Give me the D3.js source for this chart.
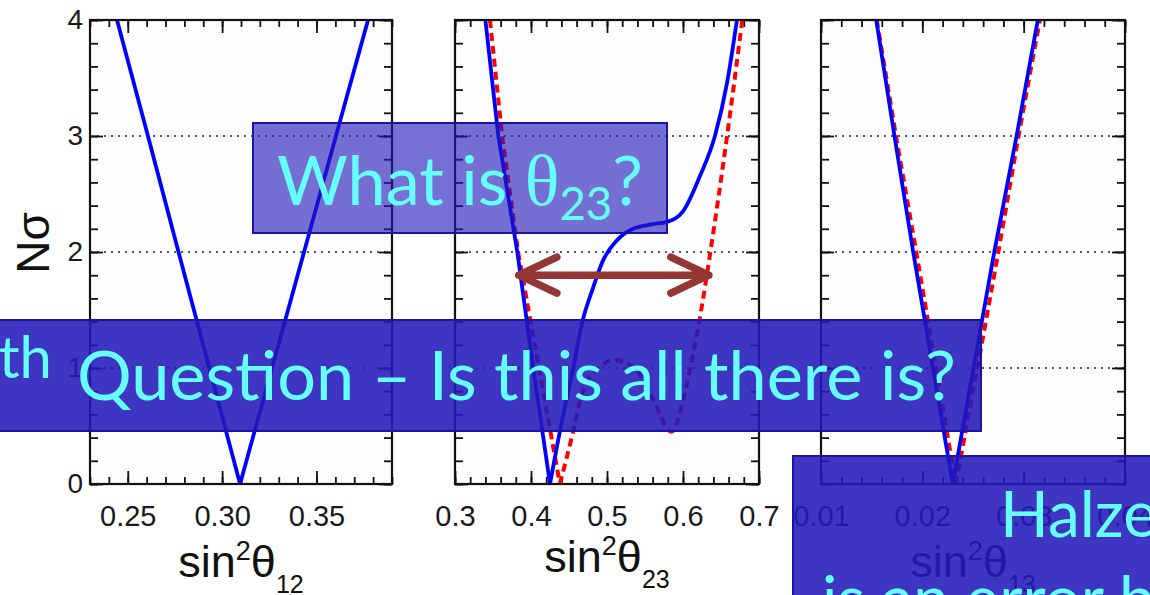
<!DOCTYPE html>
<html><head><meta charset="utf-8">
<script src="https://cdn.jsdelivr.net/npm/d3@7"></script>
<style>
html,body{margin:0;padding:0;background:#fff;overflow:hidden;}
svg{display:block;}
</style></head>
<body><svg id="c" width="1150" height="595"></svg>
<script>
// ---- Nσ axis (shared by the three panels) ----
const nsigmaTicks = [0, 1, 2, 3, 4];
const nsigmaLabels = ["0", "1", "2", "3", "4"];
const gridLevels = [1, 2, 3];

// ---- sin²θ12 panel ----
const s12Ticks = [0.25, 0.30, 0.35];
const s12Labels = ["0.25", "0.30", "0.35"];
const s12BlueLeft  = [[0.2443, 4], [0.2607, 3], [0.2769, 2], [0.3095, 0]];
const s12BlueRight = [[0.3095, 0], [0.3434, 2], [0.3603, 3], [0.3773, 4]];

// ---- sin²θ23 panel ----
const s23Ticks = [0.3, 0.4, 0.5, 0.6, 0.7];
const s23Labels = ["0.3", "0.4", "0.5", "0.6", "0.7"];
const s23BlueLeft  = [[0.340, 4], [0.357, 3], [0.382, 2], [0.403, 1], [0.425, 0]];
const s23BlueRight = [[0.425, 0], [0.440, 0.52], [0.455, 0.98], [0.468, 1.41], [0.480, 1.66],
                      [0.495, 1.93], [0.513, 2.10], [0.534, 2.20], [0.560, 2.24], [0.579, 2.26],
                      [0.600, 2.35], [0.622, 2.65], [0.642, 3.0], [0.658, 3.46], [0.671, 4.0]];
const s23RedLeft   = [[0.346, 4], [0.362, 3], [0.383, 2], [0.4105, 1], [0.438, 0]];
const s23RedRight  = [[0.438, 0], [0.455, 0.44], [0.467, 0.78], [0.491, 1.01], [0.508, 1.07],
                      [0.5346, 1.01], [0.561, 0.72], [0.585, 0.45], [0.600, 0.72], [0.6136, 1.13],
                      [0.624, 1.5], [0.636, 2.0], [0.658, 3.0], [0.678, 4.0]];
const s23Range = { from: 0.384, to: 0.634, level: 1.8 };

// ---- sin²θ13 panel ----
const s13Ticks = [0.01, 0.02, 0.03, 0.04];
const s13Labels = ["0.01", "0.02", "0.03", "0.04"];
const s13BlueLeft  = [[0.01545, 4], [0.01725, 3], [0.0191, 2], [0.0230, 0]];
const s13BlueRight = [[0.0230, 0], [0.0271, 2], [0.0293, 3], [0.0314, 4]];
const s13RedLeft   = [[0.0155, 4], [0.0174, 3], [0.0194, 2], [0.0233, 0]];
const s13RedRight  = [[0.0233, 0], [0.0275, 2], [0.0295, 3], [0.0316, 4]];

const svg = d3.select("#c");
const plotFont = "'Liberation Sans', Arial, Helvetica, sans-serif";
const slideFont = "Lato, 'Open Sans', sans-serif";
const BLUE = "#0000ff", RED = "#ff0000";

const y = d3.scaleLinear().domain([0, 4]).range([484, 20]);
const yMinor = d3.range(0, 4.0001, 0.2);

const panels = [
  { id: "p12", domain: [0.23, 0.39], range: [90, 392], ticks: s12Ticks, labels: s12Labels,
    minorStep: 0.01, sub: "12", titleY: 577, yLabels: true,
    series: [{ left: s12BlueLeft, right: s12BlueRight, color: BLUE, dash: null }] },
  { id: "p23", domain: [0.3, 0.7], range: [455, 759], ticks: s23Ticks, labels: s23Labels,
    minorStep: 0.02, sub: "23", titleY: 572, yLabels: false,
    series: [{ left: s23RedLeft, right: s23RedRight, color: RED, dash: "8,5" },
             { left: s23BlueLeft, right: s23BlueRight, color: BLUE, dash: null }] },
  { id: "p13", domain: [0.01, 0.04], range: [821, 1125], ticks: s13Ticks, labels: s13Labels,
    minorStep: 0.002, sub: "13", titleY: 577, yLabels: false,
    series: [{ left: s13RedLeft, right: s13RedRight, color: RED, dash: "8,5" },
             { left: s13BlueLeft, right: s13BlueRight, color: BLUE, dash: null }] }
];

const scales = {};

panels.forEach(p => {
  const x = d3.scaleLinear().domain(p.domain).range(p.range);
  scales[p.id] = x;
  const [x0, x1] = p.range;
  const yb = y(0), yt = y(4);
  const g = svg.append("g");

  g.append("rect").attr("x", x0).attr("y", yt).attr("width", x1 - x0).attr("height", yb - yt)
    .attr("fill", "#fdfdfd");

  // dotted reference levels
  g.selectAll("line.grid").data(gridLevels).join("line")
    .attr("class", "grid")
    .attr("x1", x0).attr("x2", x1)
    .attr("y1", d => y(d)).attr("y2", d => y(d))
    .attr("stroke", "#222").attr("stroke-width", 1.6).attr("stroke-dasharray", "2,5");

  const minor = d3.range(p.domain[0], p.domain[1] + p.minorStep / 2, p.minorStep);

  const styleAxis = sel => {
    sel.select(".domain").remove();
    sel.selectAll(".tick line").attr("stroke", "#111").attr("stroke-width", 1.8);
  };

  // x ticks, inward on bottom and top
  g.append("g").attr("transform", `translate(0,${yb})`)
    .call(d3.axisBottom(x).tickValues(minor).tickSize(-7).tickFormat(""))
    .call(styleAxis);
  g.append("g").attr("transform", `translate(0,${yt})`)
    .call(d3.axisTop(x).tickValues(minor).tickSize(-7).tickFormat(""))
    .call(styleAxis);
  g.append("g").attr("transform", `translate(0,${yt})`)
    .call(d3.axisTop(x).tickValues(p.ticks).tickSize(-13).tickFormat(""))
    .call(styleAxis);
  const xb = g.append("g").attr("transform", `translate(0,${yb})`)
    .call(d3.axisBottom(x).tickValues(p.ticks).tickSize(-13).tickPadding(21)
      .tickFormat((d, i) => p.labels[i]))
    .call(styleAxis);
  xb.selectAll("text").attr("font-family", plotFont).attr("font-size", 29).attr("fill", "#1a1a1a");

  // y ticks, inward on left and right
  g.append("g").attr("transform", `translate(${x0},0)`)
    .call(d3.axisLeft(y).tickValues(yMinor).tickSize(-8).tickFormat(""))
    .call(styleAxis);
  g.append("g").attr("transform", `translate(${x1},0)`)
    .call(d3.axisRight(y).tickValues(yMinor).tickSize(-8).tickFormat(""))
    .call(styleAxis);
  g.append("g").attr("transform", `translate(${x1},0)`)
    .call(d3.axisRight(y).tickValues(nsigmaTicks).tickSize(-13).tickFormat(""))
    .call(styleAxis);
  const yl = g.append("g").attr("transform", `translate(${x0},0)`)
    .call(d3.axisLeft(y).tickValues(nsigmaTicks).tickSize(-13).tickPadding(7)
      .tickFormat((d, i) => p.yLabels ? nsigmaLabels[i] : ""))
    .call(styleAxis);
  yl.selectAll("text").attr("font-family", plotFont).attr("font-size", 28).attr("fill", "#1a1a1a");

  // curves
  const clipId = "clip-" + p.id;
  svg.append("clipPath").attr("id", clipId).append("rect")
    .attr("x", x0).attr("y", yt).attr("width", x1 - x0).attr("height", yb - yt);
  const cg = g.append("g").attr("clip-path", `url(#${clipId})`);
  const lineL = d3.line().x(d => x(d[0])).y(d => y(d[1])).curve(d3.curveLinear);
  const lineR = d3.line().x(d => x(d[0])).y(d => y(d[1])).curve(d3.curveMonotoneX);
  p.series.forEach(s => {
    [[s.left, lineL], [s.right, lineR]].forEach(([data, gen]) => {
      cg.append("path").datum(data).attr("d", gen)
        .attr("fill", "none").attr("stroke", s.color)
        .attr("stroke-width", s.dash ? 4 : 3.8)
        .attr("stroke-dasharray", s.dash)
        .attr("stroke-linejoin", "round");
    });
  });

  // frame
  g.append("rect").attr("x", x0).attr("y", yt).attr("width", x1 - x0).attr("height", yb - yt)
    .attr("fill", "none").attr("stroke", "#111").attr("stroke-width", 2.2);

  // x title: sin²θ_ij
  const t = g.append("text").attr("x", (x0 + x1) / 2).attr("y", p.titleY)
    .attr("text-anchor", "middle").attr("font-family", plotFont).attr("font-size", 45)
    .attr("fill", "#111");
  t.append("tspan").text("sin");
  t.append("tspan").attr("font-size", 27).attr("dy", -17).text("2");
  t.append("tspan").attr("font-size", 45).attr("dy", 17).text("θ");
  t.append("tspan").attr("font-size", 25).attr("dy", 16).text(p.sub);
});

// y title
svg.append("text")
  .attr("transform", "translate(49,243) rotate(-90)")
  .attr("text-anchor", "middle").attr("font-family", plotFont).attr("font-size", 46)
  .attr("fill", "#111").text("Nσ");

// allowed range marker on the θ23 panel
(() => {
  const x = scales.p23;
  const xa = x(s23Range.from), xbp = x(s23Range.to), ya = y(s23Range.level);
  const ax = 38, ay = 18;
  const path = `M${xa},${ya}L${xbp},${ya}` +
    `M${xa + ax},${ya - ay}L${xa},${ya}L${xa + ax},${ya + ay}` +
    `M${xbp - ax},${ya - ay}L${xbp},${ya}L${xbp - ax},${ya + ay}`;
  svg.append("path").attr("d", path).attr("fill", "none")
    .attr("stroke", "#943634").attr("stroke-width", 7.5)
    .attr("stroke-linecap", "round").attr("stroke-linejoin", "round");
})();

// ---- callout boxes ----
const boxBase = "rgb(35,25,185)";
const boxEdge = "#1b12a6";
const CYAN = "#66ffff";

function fitText(textSel, x0, x1) {
  const w = textSel.node().getComputedTextLength();
  const k = (x1 - x0) / w;
  textSel.selectAll("tspan").each(function () {
    const s = d3.select(this);
    s.attr("font-size", +s.attr("font-size") * k);
  });
}

// "What is θ23?"
svg.append("rect").attr("x", 253).attr("y", 123).attr("width", 414).attr("height", 110)
  .attr("fill", boxBase).attr("fill-opacity", 0.62)
  .attr("stroke", boxEdge).attr("stroke-width", 2);
const q1 = svg.append("text").attr("x", 277).attr("y", 205).attr("fill", CYAN)
  .attr("font-family", slideFont);
q1.append("tspan").attr("font-size", 72).text("What is ");
q1.append("tspan").attr("font-size", 76).attr("font-family", "'Liberation Serif', 'DejaVu Serif', serif").text("θ");
q1.append("tspan").attr("font-size", 48).attr("dy", 15).text("23");
q1.append("tspan").attr("font-size", 72).attr("dy", -15).text("?");
fitText(q1, 277, 643);

// "4th Question – Is this all there is?"
svg.append("rect").attr("x", -6).attr("y", 320).attr("width", 987).attr("height", 111)
  .attr("fill", boxBase).attr("fill-opacity", 0.88)
  .attr("stroke", boxEdge).attr("stroke-width", 2);
svg.append("text").attr("x", 52).attr("y", 400).attr("text-anchor", "end")
  .attr("fill", CYAN).attr("font-family", slideFont)
  .call(t => {
    t.append("tspan").attr("font-size", 62).text("4");
    t.append("tspan").attr("font-size", 58).attr("dy", -22).text("th");
  });
const q2 = svg.append("text").attr("x", 77).attr("y", 400).attr("fill", CYAN)
  .attr("font-family", slideFont);
q2.append("tspan").attr("font-size", 62).text("Question – Is this all there is?");
fitText(q2, 77, 956);

// lower-right callout
svg.append("rect").attr("x", 793).attr("y", 456).attr("width", 400).attr("height", 200)
  .attr("fill", boxBase).attr("fill-opacity", 0.88)
  .attr("stroke", boxEdge).attr("stroke-width", 2);
svg.append("text").attr("x", 1000).attr("y", 537).attr("fill", CYAN)
  .attr("font-family", slideFont).attr("font-size", 64).text("Halzen:");
svg.append("text").attr("x", 822).attr("y", 622).attr("fill", CYAN)
  .attr("font-family", slideFont).attr("font-size", 64).text("is an error bar");
</script>
</body></html>
